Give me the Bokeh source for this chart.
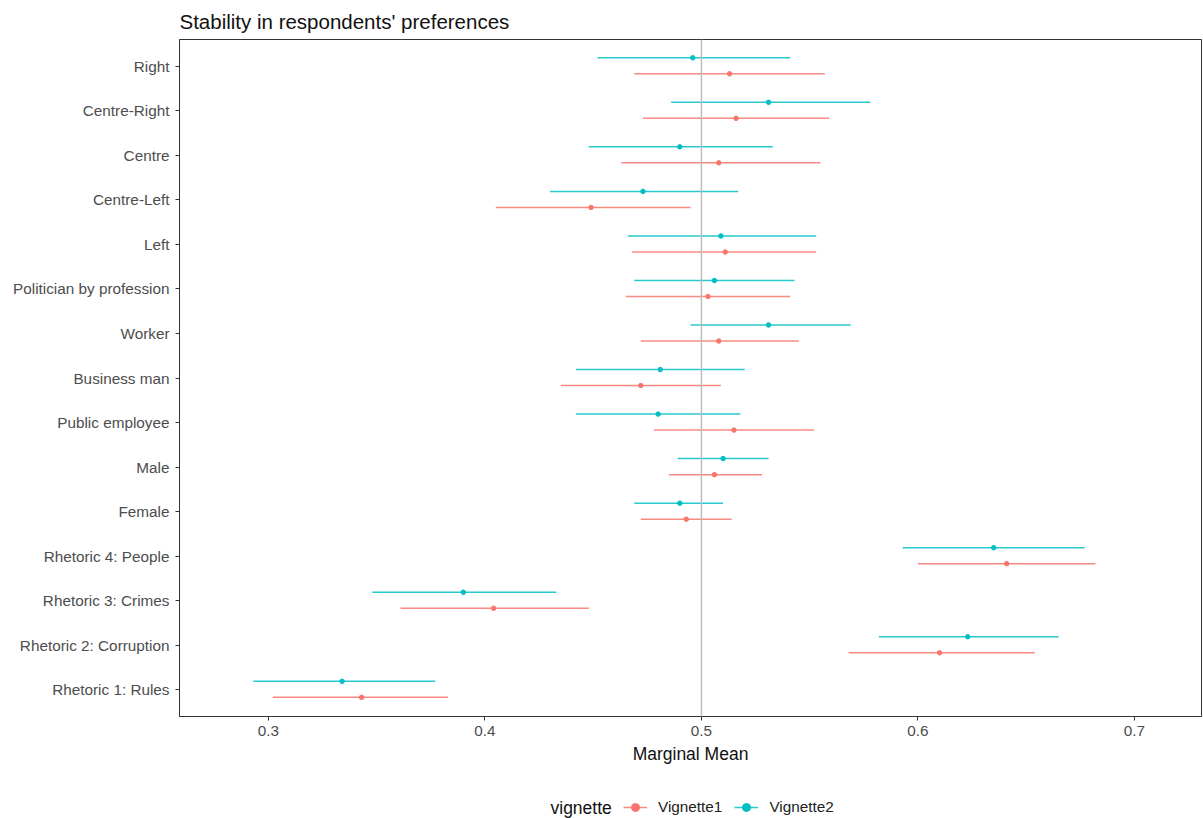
from bokeh.plotting import figure
from bokeh.layouts import column
from bokeh.models import ColumnDataSource, FixedTicker, Span, Legend, LegendItem, Range1d, Label
from bokeh.transform import dodge
from bokeh.embed import file_html
from bokeh.resources import INLINE

categories = ["Right", "Centre-Right", "Centre", "Centre-Left", "Left",
              "Politician by profession", "Worker", "Business man", "Public employee",
              "Male", "Female", "Rhetoric 4: People", "Rhetoric 3: Crimes",
              "Rhetoric 2: Corruption", "Rhetoric 1: Rules"]
v1_est = [0.513, 0.516, 0.508, 0.449, 0.511, 0.503, 0.508, 0.472, 0.515, 0.506, 0.493, 0.641, 0.404, 0.610, 0.343]
v1_lo = [0.469, 0.473, 0.463, 0.405, 0.468, 0.465, 0.472, 0.435, 0.478, 0.485, 0.472, 0.600, 0.361, 0.568, 0.302]
v1_hi = [0.557, 0.559, 0.555, 0.495, 0.553, 0.541, 0.545, 0.509, 0.552, 0.528, 0.514, 0.682, 0.448, 0.654, 0.383]
v2_est = [0.496, 0.531, 0.490, 0.473, 0.509, 0.506, 0.531, 0.481, 0.480, 0.510, 0.490, 0.635, 0.390, 0.623, 0.334]
v2_lo = [0.452, 0.486, 0.448, 0.430, 0.466, 0.469, 0.495, 0.442, 0.442, 0.489, 0.469, 0.593, 0.348, 0.582, 0.293]
v2_hi = [0.541, 0.578, 0.533, 0.517, 0.553, 0.543, 0.569, 0.520, 0.518, 0.531, 0.510, 0.677, 0.433, 0.665, 0.377]
x_ticks = [0.3, 0.4, 0.5, 0.6, 0.7]
legend_title = "vignette"
series_names = ["Vignette1", "Vignette2"]

n = len(categories)
ypos = [n - i for i in range(n)]

FONT = "Liberation Sans"
RED = "#F8766D"
CYAN = "#00BFC4"
X_RANGE = (0.2589, 0.731)

s1 = ColumnDataSource(dict(y=ypos, est=v1_est, lo=v1_lo, hi=v1_hi))
s2 = ColumnDataSource(dict(y=ypos, est=v2_est, lo=v2_lo, hi=v2_hi))


def draw_series(fig):
    seg1 = fig.segment(x0="lo", x1="hi", y0=dodge("y", -0.17), y1=dodge("y", -0.17), source=s1,
                       line_color=RED, line_width=1.5, line_alpha=0.85)
    pt1 = fig.scatter(x="est", y=dodge("y", -0.17), source=s1, size=4.5, fill_color=RED, line_color=RED)
    seg2 = fig.segment(x0="lo", x1="hi", y0=dodge("y", 0.19), y1=dodge("y", 0.19), source=s2,
                       line_color=CYAN, line_width=1.5, line_alpha=0.85)
    pt2 = fig.scatter(x="est", y=dodge("y", 0.19), source=s2, size=4.5, fill_color=CYAN, line_color=CYAN)
    return (seg1, pt1), (seg2, pt2)


p = figure(width=1203, height=790, output_backend="svg", toolbar_location=None,
           x_range=Range1d(*X_RANGE), y_range=Range1d(0.4, n + 0.6),
           min_border_left=179, min_border_right=2, min_border_top=39, min_border_bottom=74,
           title="Stability in respondents' preferences")
p.title.text_font = FONT
p.title.text_font_size = "20.5px"
p.title.text_font_style = "normal"
p.title.text_color = "#111111"
p.title.align = "left"
p.title.standoff = 13

p.xgrid.visible = False
p.ygrid.visible = False
p.outline_line_color = "#333333"
p.outline_line_width = 1
p.background_fill_color = "white"
p.border_fill_color = "white"

p.add_layout(Span(location=0.5, dimension="height", line_color="#BEBEBE", line_width=1.5))
draw_series(p)

p.yaxis.ticker = FixedTicker(ticks=ypos)
p.yaxis.major_label_overrides = {y: c for y, c in zip(ypos, categories)}
p.xaxis.ticker = FixedTicker(ticks=x_ticks)
p.xaxis.axis_label = "Marginal Mean"

for ax in (p.xaxis[0], p.yaxis[0]):
    ax.major_label_text_font = FONT
    ax.major_label_text_font_size = "15.3px"
    ax.major_label_text_color = "#4D4D4D"
    ax.axis_line_color = "#333333"
    ax.major_tick_line_color = "#333333"
    ax.major_tick_in = 0
    ax.major_tick_out = 4
    ax.minor_tick_line_color = None
    ax.axis_label_text_font = FONT
    ax.axis_label_text_font_style = "normal"
    ax.axis_label_text_font_size = "17.5px"
    ax.axis_label_text_color = "#111111"
p.xaxis.major_label_standoff = 5
p.xaxis.axis_label_standoff = 5
p.yaxis.major_label_standoff = 6

# ---- legend strip: same series drawn out of view, only the legend shows ----
lf = figure(width=1203, height=28, output_backend="svg", toolbar_location=None,
            x_range=Range1d(*X_RANGE), y_range=Range1d(-10, -9),
            x_axis_location=None, y_axis_location=None,
            min_border_left=179, min_border_right=2, min_border_top=0, min_border_bottom=0)
lf.grid.visible = False
lf.outline_line_color = None
lf.background_fill_color = "white"
lf.border_fill_color = "white"
r1, r2 = draw_series(lf)

legend = Legend(items=[LegendItem(label=series_names[0], renderers=list(r1)),
                       LegendItem(label=series_names[1], renderers=list(r2))],
                orientation="horizontal", location=(444, 1))
legend.label_text_font = FONT
legend.label_text_font_size = "15.3px"
legend.label_text_color = "#222222"
legend.border_line_color = None
legend.background_fill_alpha = 0
legend.glyph_width = 24
legend.glyph_height = 20
legend.label_height = 20
legend.spacing = 12
legend.margin = 0
legend.padding = 0
legend.label_standoff = 11
lf.add_layout(legend, "center")

lf.add_layout(Label(x=371, y=11, x_units="screen", y_units="screen", text=legend_title,
                    text_font=FONT, text_font_size="17.5px", text_color="#111111",
                    text_baseline="middle"))

open("out.html", "w").write(file_html(column(p, lf, spacing=0), INLINE))
